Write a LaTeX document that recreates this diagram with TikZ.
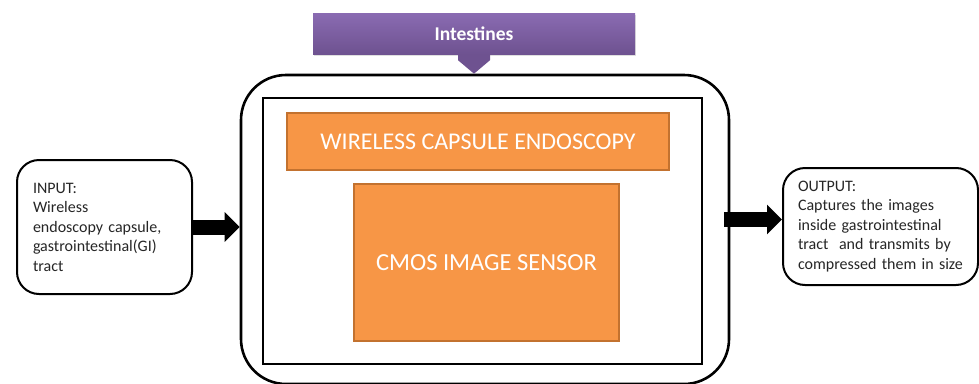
\documentclass[tikz,border=0pt]{standalone}
\usepackage{fontspec}
\setmainfont{Carlito}
\usetikzlibrary{arrows.meta,shadows}

\definecolor{capOrange}{HTML}{F79646}
\definecolor{capOrangeEdge}{HTML}{C3722F}
\definecolor{purpleTop}{HTML}{8A6BB2}
\definecolor{purpleBot}{HTML}{6E5290}
\definecolor{bodyText}{HTML}{262626}

\tikzset{
  iobox/.style={draw=black, line width=2pt, rounded corners=22pt, fill=white,
    text=bodyText, align=left, font=\fontsize{16}{19.5}\selectfont,
    inner ysep=0pt},
  orangebox/.style={draw=capOrangeEdge, line width=1.4pt, fill=capOrange,
    text=white, inner sep=0pt},
  bigarrow/.style={line width=15pt, draw=black,
    -{Triangle[length=15pt,width=29pt]}},
}

\begin{document}
\begin{tikzpicture}[x=1pt,y=-1pt]
  \useasboundingbox (0,0) rectangle (979,383);

  % housing of the capsule and its inner frame
  \node[draw=black, line width=2.6pt, rounded corners=45pt,
        minimum width=488pt, minimum height=309pt, inner sep=0pt]
        (outer) at (485,229.5) {};
  \node[draw=black, line width=2.4pt, minimum width=439pt, minimum height=266pt,
        inner sep=0pt] (inner) at (482.5,231) {};

  % the two orange blocks
  \node[orangebox, minimum width=382pt, minimum height=57pt,
        font=\fontsize{24}{26}\selectfont] (wce) at (478,141.5)
        {WIRELESS CAPSULE\ ENDOSCOPY};
  \node[orangebox, minimum width=265pt, minimum height=157pt,
        font=\fontsize{24.5}{27}\selectfont] (cmos) at (486.5,262.5)
        {CMOS IMAGE SENSOR};

  % purple banner with its down arrow
  \node[draw=none, top color=purpleTop, bottom color=purpleBot,
        minimum width=322pt, minimum height=41pt, inner sep=0pt,
        text=white, font=\bfseries\fontsize{19.5}{22}\selectfont,
        drop shadow={opacity=0.25, shadow xshift=1pt, shadow yshift=-1.5pt}]
        (intest) at (474,33.5) {Intestines};
  \coordinate (tip) at (intest.south |- outer.north);
  \fill[purpleBot] ([xshift=-16pt]intest.south) -- ([xshift=16pt]intest.south)
        -- ([xshift=16pt,yshift=-6pt]intest.south) -- (tip)
        -- ([xshift=-16pt,yshift=-6pt]intest.south) -- cycle;

  % input and output boxes
  \node[iobox, inner xsep=16pt, text width=143pt, minimum width=175pt,
        minimum height=134pt] (in) at (104.5,227)
        {INPUT:\\Wireless\\endoscopy capsule,\\gastrointestinal(GI)\\tract};
  \node[iobox, inner xsep=15pt, text width=165pt, minimum width=195pt,
        minimum height=117pt] (out) at (880.5,226.5)
        {OUTPUT:\\Captures the images\\inside gastrointestinal\\tract\ \ and transmits by\\compressed them in size};

  % thick block arrows
  \draw[bigarrow] (in.east) -- (in.east -| outer.west);
  \coordinate (outstart) at ([xshift=-6pt]outer.east |- 0,219.5);
  \draw[bigarrow] (outstart) -- (outstart -| out.west);
\end{tikzpicture}
\end{document}
